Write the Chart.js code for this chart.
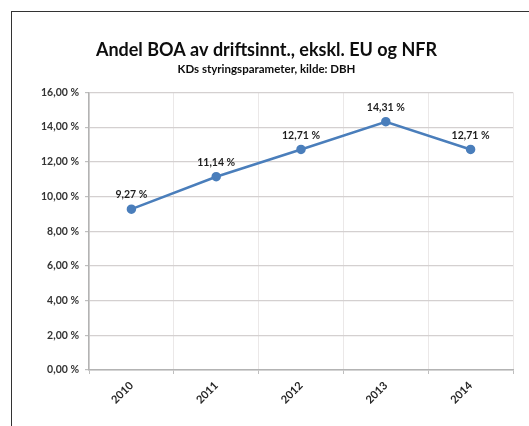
<!DOCTYPE html>
<html>
<head>
<meta charset="utf-8">
<script src="https://cdn.jsdelivr.net/npm/chart.js@4/dist/chart.umd.min.js"></script>
<style>
  html, body { margin: 0; padding: 0; background: #fff; overflow: hidden; }
  #ramme { position: absolute; left: 11px; top: 11px; width: 600px; height: 500px;
           border-left: 1.5px solid #333; border-top: 1.5px solid #333; }
  #boks { position: absolute; left: 0; top: 0; width: 529px; height: 426px; }
</style>
</head>
<body>
<div id="ramme"></div>
<div id="boks"><canvas id="grafikk"></canvas></div>
<script>
// data lest av figuren
const aar = ['2010', '2011', '2012', '2013', '2014'];
const andelBOA = [9.27, 11.14, 12.71, 14.31, 12.71];
const yTicks = [0, 2, 4, 6, 8, 10, 12, 14, 16];

const FONT = 'Lato, "Open Sans", sans-serif';

function prosent(v) {
    return v.toFixed(2).replace('.', ',') + ' %';
}

// egne etiketter over punktene
const etiketter = {
    id: 'etiketter',
    afterDatasetsDraw(chart) {
        const ctx = chart.ctx;
        const meta = chart.getDatasetMeta(0);
        ctx.save();
        ctx.font = 'bold 10.5px ' + FONT;
        ctx.fillStyle = '#1f1f1f';
        ctx.textAlign = 'center';
        ctx.textBaseline = 'bottom';
        meta.data.forEach((pt, i) => {
            ctx.fillText(prosent(chart.data.datasets[0].data[i]), pt.x, pt.y - 9);
        });
        ctx.restore();
    }
};

new Chart(document.getElementById('grafikk'), {
    type: 'line',
    data: {
        labels: aar,
        datasets: [{
            label: 'Andel BOA',
            data: andelBOA,
            borderColor: '#4a7ebb',
            backgroundColor: '#4a7ebb',
            borderWidth: 2.5,
            pointRadius: 3.5,
            pointHoverRadius: 3.5,
            tension: 0
        }]
    },
    options: {
        responsive: true,
        maintainAspectRatio: false,
        animation: false,
        layout: { padding: { left: 20, right: 16, top: 0, bottom: 6 } },
        plugins: {
            legend: { display: false },
            tooltip: { enabled: false },
            title: {
                display: true,
                text: 'Andel BOA av driftsinnt., ekskl. EU og NFR',
                color: '#0d0d0d',
                font: { family: FONT, size: 18, weight: 'bold', lineHeight: 1.2 },
                padding: { top: 39, bottom: 2 }
            },
            subtitle: {
                display: true,
                text: 'KDs styringsparameter, kilde: DBH',
                color: '#0d0d0d',
                font: { family: FONT, size: 11.5, weight: 'bold', lineHeight: 1.2 },
                padding: { top: 0, bottom: 16 }
            }
        },
        scales: {
            x: {
                offset: true,
                afterFit(scale) { scale.height = 50; },
                grid: { offset: true, color: '#ebe8e8', tickLength: 4, tickColor: '#bfbfbf' },
                border: { color: '#b3b3b3', width: 1.5 },
                ticks: {
                    color: '#262626',
                    font: { family: FONT, size: 11, weight: 'bold' },
                    maxRotation: 45, minRotation: 45, padding: 5
                }
            },
            y: {
                min: 0,
                max: 16,
                afterFit(scale) { scale.width = 69; },
                afterBuildTicks(scale) { scale.ticks = yTicks.map(v => ({ value: v })); },
                grid: { color: '#d4d0d0', lineWidth: 1.2, tickLength: 4, tickColor: '#bfbfbf' },
                border: { color: '#b3b3b3', width: 1.5 },
                ticks: {
                    color: '#333',
                    font: { family: FONT, size: 10.5, weight: 'bold' },
                    padding: 6,
                    callback: v => prosent(v)
                }
            }
        }
    },
    plugins: [etiketter]
});
</script>
</body>
</html>
